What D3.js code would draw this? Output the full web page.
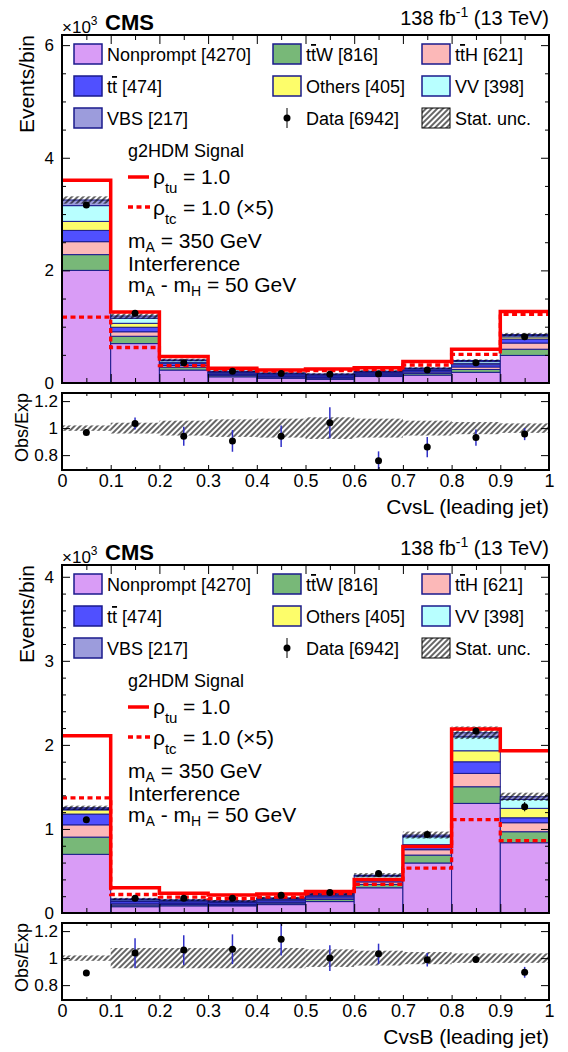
<!DOCTYPE html>
<html>
<head>
<meta charset="utf-8">
<script src="https://cdn.jsdelivr.net/npm/d3@7/dist/d3.min.js"></script>
<style>
body { margin: 0; background: #fff; }
svg text { font-family: "Liberation Sans", Arial, Helvetica, sans-serif; }
</style>
</head>
<body>
<svg id="canvas"></svg>
<script>
// ---- data (events per bin, in units of 10^3) ----
var binLow = [0, 0.1, 0.2, 0.3, 0.4, 0.5, 0.6, 0.7, 0.8, 0.9];
var binWidth = 0.1;
var xTicks = [0, 0.1, 0.2, 0.3, 0.4, 0.5, 0.6, 0.7, 0.8, 0.9, 1];
var xTickLabels = ['0', '0.1', '0.2', '0.3', '0.4', '0.5', '0.6', '0.7', '0.8', '0.9', '1'];
var xMinorTicks = [0.05, 0.15, 0.25, 0.35, 0.45, 0.55, 0.65, 0.75, 0.85, 0.95];

var procNames = ['Nonprompt [4270]', 'tt\u0304W [816]', 'tt\u0304H [621]', 'tt\u0304 [474]', 'Others [405]', 'VV [398]', 'VBS [217]'];
var procColors = ['#d99cf6', '#78b878', '#fcb8b8', '#5050ff', '#fdfd6a', '#b8ffff', '#9c9cdc'];

// CvsL (leading jet)
var cvslNonprompt = [2.0, 0.70, 0.23, 0.11, 0.083, 0.065, 0.115, 0.14, 0.19, 0.49];
var cvslTTW       = [0.28, 0.13, 0.05, 0.025, 0.02, 0.02, 0.02, 0.03, 0.05, 0.11];
var cvslTTH       = [0.23, 0.08, 0.03, 0.015, 0.015, 0.015, 0.02, 0.025, 0.045, 0.11];
var cvslTT        = [0.20, 0.08, 0.04, 0.025, 0.025, 0.025, 0.02, 0.025, 0.04, 0.07];
var cvslOthers    = [0.16, 0.07, 0.02, 0.01, 0.01, 0.01, 0.01, 0.015, 0.025, 0.04];
var cvslVV        = [0.28, 0.09, 0.03, 0.015, 0.015, 0.015, 0.015, 0.02, 0.035, 0.025];
var cvslVBS       = [0.10, 0.04, 0.01, 0.01, 0.01, 0.01, 0.01, 0.01, 0.015, 0.015];
var cvslData      = [3.16, 1.24, 0.36, 0.21, 0.17, 0.155, 0.16, 0.23, 0.36, 0.82];
var cvslSigTU     = [3.6, 1.26, 0.47, 0.26, 0.23, 0.25, 0.27, 0.38, 0.60, 1.27];
var cvslSigTC     = [1.17, 0.63, 0.31, 0.24, 0.21, 0.22, 0.24, 0.32, 0.51, 1.22];
var cvslRatio     = [0.968, 1.034, 0.94, 0.905, 0.94, 1.04, 0.758, 0.86, 0.93, 0.956];
var cvslRatioErr  = [0.015, 0.045, 0.07, 0.08, 0.08, 0.115, 0.07, 0.075, 0.06, 0.045];
var cvslStatUnc   = [0.02, 0.04, 0.055, 0.065, 0.07, 0.08, 0.07, 0.055, 0.045, 0.035];
var cvslYTicks = [0, 2, 4, 6];

// CvsB (leading jet)
var cvsbNonprompt = [0.698, 0.075, 0.085, 0.085, 0.10, 0.136, 0.30, 0.595, 1.304, 0.836];
var cvsbTTW       = [0.205, 0.02, 0.015, 0.013, 0.018, 0.025, 0.04, 0.094, 0.198, 0.131];
var cvsbTTH       = [0.146, 0.015, 0.012, 0.01, 0.013, 0.018, 0.03, 0.064, 0.159, 0.107];
var cvsbTT        = [0.128, 0.025, 0.02, 0.017, 0.02, 0.02, 0.02, 0.035, 0.138, 0.059];
var cvsbOthers    = [0.05, 0.01, 0.008, 0.007, 0.01, 0.01, 0.015, 0.025, 0.131, 0.112];
var cvsbVV        = [0.01, 0.015, 0.01, 0.008, 0.012, 0.014, 0.035, 0.094, 0.166, 0.107];
var cvsbVBS       = [0.015, 0.008, 0.006, 0.005, 0.007, 0.007, 0.01, 0.02, 0.048, 0.031];
var cvsbData      = [1.11, 0.175, 0.175, 0.175, 0.21, 0.245, 0.47, 0.935, 2.165, 1.265];
var cvsbSigTU     = [2.11, 0.30, 0.235, 0.215, 0.225, 0.255, 0.40, 0.79, 2.19, 1.93];
var cvsbSigTC     = [1.37, 0.22, 0.19, 0.17, 0.19, 0.23, 0.34, 0.535, 1.11, 0.86];
var cvsbRatio     = [0.89, 1.037, 1.06, 1.066, 1.14, 1.0, 1.032, 0.988, 0.99, 0.895];
var cvsbRatioErr  = [0.02, 0.11, 0.11, 0.11, 0.12, 0.095, 0.075, 0.05, 0.02, 0.04];
var cvsbStatUnc   = [0.02, 0.075, 0.075, 0.075, 0.075, 0.065, 0.055, 0.045, 0.035, 0.035];
var cvsbYTicks = [0, 1, 2, 3, 4];

var ratioTicks = [0.8, 1, 1.2];
var ratioTickLabels = ['0.8', '1', '1.2'];

// ---- layout ----
var width = 568, height = 1052;
var xLeft = 62, xRight = 549;
var navy = '#1a1a8c';
var red = '#ff0000';

var svg = d3.select('#canvas')
    .attr('width', width)
    .attr('height', height);

// hatch pattern for stat. unc.
svg.append('defs').append('pattern')
    .attr('id', 'hatch')
    .attr('patternUnits', 'userSpaceOnUse')
    .attr('width', 4).attr('height', 4)
    .attr('patternTransform', 'rotate(45)')
    .append('line')
    .attr('x1', 2).attr('y1', 0).attr('x2', 2).attr('y2', 4)
    .attr('stroke', '#000').attr('stroke-width', 1.2);

var xScale = d3.scaleLinear().domain([0, 1]).range([xLeft, xRight]);

// write a label that may hold t-bar (t + combining macron) as t with overline
function richLabel(sel, str) {
    var parts = str.split('t\u0304');
    parts.forEach(function (p, i) {
        if (i > 0) sel.append('tspan').text('t').style('text-decoration', 'overline');
        if (p.length) sel.append('tspan').text(p);
    });
}

function styleAxis(g, size) {
    g.select('.domain').remove();
    g.selectAll('line').attr('stroke', '#000').attr('stroke-width', 1);
    g.selectAll('text').attr('font-size', size).attr('fill', '#000')
        .attr('font-family', '"Liberation Sans", Arial, sans-serif');
}

function drawPanel(off, cfg) {
    var g = svg.append('g').attr('transform', 'translate(0,' + off + ')');
    var top = 35, bottom = 383, rTop = 393, rBottom = 470;

    var yScale = d3.scaleLinear().domain([0, cfg.yMax]).range([bottom, top]);
    var rScale = d3.scaleLinear().domain([0.69, 1.26]).range([rBottom, rTop]);

    // stacked backgrounds
    var stackCells = [];
    binLow.forEach(function (lo, i) {
        var cum = 0;
        cfg.stack.forEach(function (series, k) {
            stackCells.push({ lo: lo, y0: cum, y1: cum + series[i], k: k });
            cum += series[i];
        });
    });
    var mcTotal = binLow.map(function (lo, i) {
        return d3.sum(cfg.stack, function (s) { return s[i]; });
    });

    g.append('g').selectAll('rect')
        .data(stackCells)
        .enter()
        .append('rect')
        .attr('x', function (d) { return xScale(d.lo); })
        .attr('y', function (d) { return yScale(d.y1); })
        .attr('width', function (d) { return xScale(d.lo + binWidth) - xScale(d.lo); })
        .attr('height', function (d) { return yScale(d.y0) - yScale(d.y1); })
        .attr('fill', function (d) { return procColors[d.k]; })
        .attr('stroke', navy)
        .attr('stroke-width', 1);

    // stat. unc. band on the stack
    g.append('g').selectAll('rect')
        .data(binLow)
        .enter()
        .append('rect')
        .attr('x', function (d) { return xScale(d); })
        .attr('y', function (d, i) { return yScale(mcTotal[i] * (1 + cfg.statUnc[i])); })
        .attr('width', function (d) { return xScale(d + binWidth) - xScale(d); })
        .attr('height', function (d, i) {
            return yScale(mcTotal[i] * (1 - cfg.statUnc[i])) - yScale(mcTotal[i] * (1 + cfg.statUnc[i]));
        })
        .attr('fill', 'url(#hatch)');

    // signal step lines
    var step = d3.line()
        .x(function (d) { return xScale(d[0]); })
        .y(function (d) { return yScale(d[1]); })
        .curve(d3.curveStepAfter);
    function stepPoints(v) {
        var pts = binLow.map(function (lo, i) { return [lo, v[i]]; });
        pts.push([1, v[v.length - 1]]);
        return pts;
    }
    g.append('path')
        .attr('d', step(stepPoints(cfg.sigTC)))
        .attr('fill', 'none')
        .attr('stroke', red)
        .attr('stroke-width', 3.3)
        .attr('stroke-dasharray', '5,3.5');
    g.append('path')
        .attr('d', step(stepPoints(cfg.sigTU)))
        .attr('fill', 'none')
        .attr('stroke', red)
        .attr('stroke-width', 3.5);

    // data points
    var dataG = g.append('g');
    dataG.selectAll('line')
        .data(cfg.data)
        .enter()
        .append('line')
        .attr('x1', function (d, i) { return xScale(binLow[i] + binWidth / 2); })
        .attr('x2', function (d, i) { return xScale(binLow[i] + binWidth / 2); })
        .attr('y1', function (d, i) { return yScale(d + cfg.ratioErr[i] * mcTotal[i]); })
        .attr('y2', function (d, i) { return yScale(d - cfg.ratioErr[i] * mcTotal[i]); })
        .attr('stroke', '#000')
        .attr('stroke-width', 1);
    dataG.selectAll('circle')
        .data(cfg.data)
        .enter()
        .append('circle')
        .attr('cx', function (d, i) { return xScale(binLow[i] + binWidth / 2); })
        .attr('cy', function (d) { return yScale(d); })
        .attr('r', 3.5)
        .attr('fill', '#000');

    // main frame axes
    var yMinor = d3.range(0, cfg.yMax, cfg.yMinorStep).filter(function (v) {
        return cfg.yTicks.indexOf(Math.round(v * 100) / 100) === -1;
    });
    var ax;
    ax = g.append('g').attr('transform', 'translate(' + xLeft + ',0)')
        .call(d3.axisLeft(yScale).tickValues(cfg.yTicks).tickSize(-8).tickPadding(8)
            .tickFormat(d3.format('d')));
    styleAxis(ax, 17);
    ax = g.append('g').attr('transform', 'translate(' + xLeft + ',0)')
        .call(d3.axisLeft(yScale).tickValues(yMinor).tickSize(-4).tickFormat(''));
    styleAxis(ax, 17);
    ax = g.append('g').attr('transform', 'translate(' + xRight + ',0)')
        .call(d3.axisRight(yScale).tickValues(cfg.yTicks).tickSize(-8).tickFormat(''));
    styleAxis(ax, 17);
    ax = g.append('g').attr('transform', 'translate(' + xRight + ',0)')
        .call(d3.axisRight(yScale).tickValues(yMinor).tickSize(-4).tickFormat(''));
    styleAxis(ax, 17);
    [[bottom, d3.axisBottom], [top, d3.axisTop]].forEach(function (a) {
        ax = g.append('g').attr('transform', 'translate(0,' + a[0] + ')')
            .call(a[1](xScale).tickValues(xTicks).tickSize(-9).tickFormat(''));
        styleAxis(ax, 17);
        ax = g.append('g').attr('transform', 'translate(0,' + a[0] + ')')
            .call(a[1](xScale).tickValues(xMinorTicks).tickSize(-5).tickFormat(''));
        styleAxis(ax, 17);
    });
    g.append('rect')
        .attr('x', xLeft).attr('y', top)
        .attr('width', xRight - xLeft).attr('height', bottom - top)
        .attr('fill', 'none').attr('stroke', '#000').attr('stroke-width', 2);

    // ratio panel
    g.append('g').selectAll('rect')
        .data(binLow)
        .enter()
        .append('rect')
        .attr('x', function (d) { return xScale(d); })
        .attr('y', function (d, i) { return rScale(1 + cfg.statUnc[i]); })
        .attr('width', function (d) { return xScale(d + binWidth) - xScale(d); })
        .attr('height', function (d, i) { return rScale(1 - cfg.statUnc[i]) - rScale(1 + cfg.statUnc[i]); })
        .attr('fill', 'url(#hatch)');

    var ratioG = g.append('g');
    ratioG.selectAll('line')
        .data(cfg.ratio)
        .enter()
        .append('line')
        .attr('x1', function (d, i) { return xScale(binLow[i] + binWidth / 2); })
        .attr('x2', function (d, i) { return xScale(binLow[i] + binWidth / 2); })
        .attr('y1', function (d, i) { return rScale(d + cfg.ratioErr[i]); })
        .attr('y2', function (d, i) { return rScale(d - cfg.ratioErr[i]); })
        .attr('stroke', '#3030c8')
        .attr('stroke-width', 1.5);
    ratioG.selectAll('circle')
        .data(cfg.ratio)
        .enter()
        .append('circle')
        .attr('cx', function (d, i) { return xScale(binLow[i] + binWidth / 2); })
        .attr('cy', function (d) { return rScale(d); })
        .attr('r', 3.5)
        .attr('fill', '#000');

    ax = g.append('g').attr('transform', 'translate(' + xLeft + ',0)')
        .call(d3.axisLeft(rScale).tickValues(ratioTicks).tickSize(-8).tickPadding(4)
            .tickFormat(function (d, i) { return ratioTickLabels[i]; }));
    styleAxis(ax, 17);
    ax = g.append('g').attr('transform', 'translate(' + xRight + ',0)')
        .call(d3.axisRight(rScale).tickValues(ratioTicks).tickSize(-8).tickFormat(''));
    styleAxis(ax, 17);
    ax = g.append('g').attr('transform', 'translate(0,' + rBottom + ')')
        .call(d3.axisBottom(xScale).tickValues(xTicks).tickSize(-5).tickPadding(4)
            .tickFormat(function (d, i) { return xTickLabels[i]; }));
    styleAxis(ax, 18);
    ax = g.append('g').attr('transform', 'translate(0,' + rBottom + ')')
        .call(d3.axisBottom(xScale).tickValues(xMinorTicks).tickSize(-3).tickFormat(''));
    styleAxis(ax, 18);
    ax = g.append('g').attr('transform', 'translate(0,' + rTop + ')')
        .call(d3.axisTop(xScale).tickValues(xTicks).tickSize(-5).tickFormat(''));
    styleAxis(ax, 18);
    ax = g.append('g').attr('transform', 'translate(0,' + rTop + ')')
        .call(d3.axisTop(xScale).tickValues(xMinorTicks).tickSize(-3).tickFormat(''));
    styleAxis(ax, 18);
    g.append('rect')
        .attr('x', xLeft).attr('y', rTop)
        .attr('width', xRight - xLeft).attr('height', rBottom - rTop)
        .attr('fill', 'none').attr('stroke', '#000').attr('stroke-width', 2);

    // titles
    g.append('text')
        .attr('transform', 'translate(34,' + top + ') rotate(-90)')
        .attr('text-anchor', 'end')
        .attr('font-size', 21)
        .text('Events/bin');
    g.append('text')
        .attr('transform', 'translate(28,' + rTop + ') rotate(-90)')
        .attr('text-anchor', 'end')
        .attr('font-size', 18)
        .text('Obs/Exp');
    g.append('text')
        .attr('x', xRight).attr('y', 514)
        .attr('text-anchor', 'end')
        .attr('font-size', 21)
        .text(cfg.xTitle);

    var t = g.append('text').attr('x', xLeft).attr('y', 33).attr('font-size', 17);
    t.append('tspan').text('\u00d710');
    t.append('tspan').attr('font-size', 12).attr('dy', -8).text('3');
    g.append('text')
        .attr('x', 105).attr('y', 30)
        .attr('font-size', 22).attr('font-weight', 'bold')
        .text('CMS');
    t = g.append('text').attr('x', xRight).attr('y', 25).attr('text-anchor', 'end').attr('font-size', 20);
    t.append('tspan').text('138 fb');
    t.append('tspan').attr('font-size', 14).attr('dy', -8).text('-1');
    t.append('tspan').attr('dy', 8).text(' (13 TeV)');

    // legend
    var legCols = [74, 273, 422];
    var legRows = [54, 86, 118];
    var legend = g.append('g');
    procNames.forEach(function (name, k) {
        var col = k % 3, row = Math.floor(k / 3);
        legend.append('rect')
            .attr('x', legCols[col]).attr('y', legRows[row] - 10)
            .attr('width', 28).attr('height', 20)
            .attr('fill', procColors[k])
            .attr('stroke', navy).attr('stroke-width', 1.5);
        var lt = legend.append('text')
            .attr('x', legCols[col] + 33).attr('y', legRows[row] + 7)
            .attr('font-size', 18);
        richLabel(lt, name);
    });
    // data entry
    legend.append('line')
        .attr('x1', legCols[1] + 14).attr('x2', legCols[1] + 14)
        .attr('y1', legRows[2] - 10).attr('y2', legRows[2] + 10)
        .attr('stroke', '#000').attr('stroke-width', 1);
    legend.append('circle')
        .attr('cx', legCols[1] + 14).attr('cy', legRows[2]).attr('r', 3.5).attr('fill', '#000');
    legend.append('text')
        .attr('x', legCols[1] + 33).attr('y', legRows[2] + 7)
        .attr('font-size', 18).text('Data [6942]');
    // stat. unc. entry
    legend.append('rect')
        .attr('x', legCols[2]).attr('y', legRows[2] - 10)
        .attr('width', 28).attr('height', 20)
        .attr('fill', 'url(#hatch)')
        .attr('stroke', '#000').attr('stroke-width', 1);
    legend.append('text')
        .attr('x', legCols[2] + 33).attr('y', legRows[2] + 7)
        .attr('font-size', 18).text('Stat. unc.');

    // signal legend
    g.append('text').attr('x', 128).attr('y', 157).attr('font-size', 18).text('g2HDM Signal');
    g.append('line').attr('x1', 128).attr('x2', 149).attr('y1', 177).attr('y2', 177)
        .attr('stroke', red).attr('stroke-width', 3.5);
    t = g.append('text').attr('x', 153).attr('y', 184).attr('font-size', 21);
    t.append('tspan').text('\u03c1');
    t.append('tspan').attr('font-size', 15).attr('dy', 9).text('tu');
    t.append('tspan').attr('x', 183).attr('dy', -9).text('= 1.0');
    g.append('line').attr('x1', 128).attr('x2', 150).attr('y1', 207).attr('y2', 207)
        .attr('stroke', red).attr('stroke-width', 3.3).attr('stroke-dasharray', '5,3.5');
    t = g.append('text').attr('x', 153).attr('y', 215).attr('font-size', 21);
    t.append('tspan').text('\u03c1');
    t.append('tspan').attr('font-size', 15).attr('dy', 9).text('tc');
    t.append('tspan').attr('x', 183).attr('dy', -9).text('= 1.0 (\u00d75)');

    t = g.append('text').attr('x', 128).attr('y', 248).attr('font-size', 21);
    t.append('tspan').text('m');
    t.append('tspan').attr('font-size', 14).attr('dy', 4).text('A');
    t.append('tspan').attr('dy', -4).text(' = 350 GeV');
    g.append('text').attr('x', 128).attr('y', 271).attr('font-size', 21).text('Interference');
    t = g.append('text').attr('x', 128).attr('y', 292).attr('font-size', 21);
    t.append('tspan').text('m');
    t.append('tspan').attr('font-size', 14).attr('dy', 4).text('A');
    t.append('tspan').attr('dy', -4).text(' - m');
    t.append('tspan').attr('font-size', 14).attr('dy', 4).text('H');
    t.append('tspan').attr('dy', -4).text(' = 50 GeV');
}

drawPanel(0, {
    yMax: 6.18, yTicks: cvslYTicks, yMinorStep: 0.5,
    stack: [cvslNonprompt, cvslTTW, cvslTTH, cvslTT, cvslOthers, cvslVV, cvslVBS],
    data: cvslData, sigTU: cvslSigTU, sigTC: cvslSigTC,
    ratio: cvslRatio, ratioErr: cvslRatioErr, statUnc: cvslStatUnc,
    xTitle: 'CvsL (leading jet)'
});
drawPanel(530, {
    yMax: 4.14, yTicks: cvsbYTicks, yMinorStep: 0.2,
    stack: [cvsbNonprompt, cvsbTTW, cvsbTTH, cvsbTT, cvsbOthers, cvsbVV, cvsbVBS],
    data: cvsbData, sigTU: cvsbSigTU, sigTC: cvsbSigTC,
    ratio: cvsbRatio, ratioErr: cvsbRatioErr, statUnc: cvsbStatUnc,
    xTitle: 'CvsB (leading jet)'
});
</script>
</body>
</html>
